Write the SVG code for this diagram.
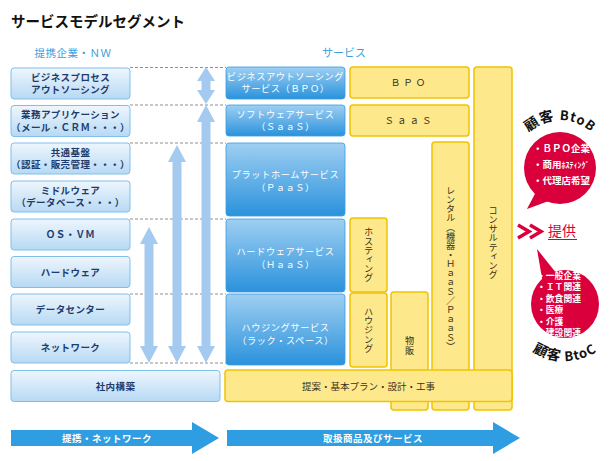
<svg xmlns="http://www.w3.org/2000/svg" width="614" height="461" viewBox="0 0 614 461">
<defs>
<linearGradient id="gl" x1="0" y1="0" x2="0" y2="1"><stop offset="0" stop-color="#eef6fd"/><stop offset="1" stop-color="#b7d9f4"/></linearGradient>
<linearGradient id="gs" x1="0" y1="0" x2="0" y2="1"><stop offset="0" stop-color="#9fcff2"/><stop offset="1" stop-color="#2a92dc"/></linearGradient>
<path id="arcB" d="M 514,166 A 46 46 0 0 1 606,166"/>
<path id="arcC" d="M 507,303 A 58 58 0 0 0 623,303"/>
</defs>
<style>
text{font-family:"Noto Sans CJK JP","Noto Sans",sans-serif}
.lb{fill:url(#gl);stroke:#80bfea;stroke-width:1}
.lt{font-size:9.5px;font-weight:bold;fill:#1d3b6c;text-anchor:middle;letter-spacing:0.4px}
.sb{fill:url(#gs);stroke:#3a9ce0;stroke-width:0.8}
.st{font-size:9.2px;fill:#fff;text-anchor:middle;letter-spacing:0.6px}
.yb{fill:#fde88c;stroke:#f1c300;stroke-width:1.5}
.yt{font-size:9.5px;fill:#3a321c;text-anchor:middle}
.vt{font-size:9.2px;fill:#3a321c;text-anchor:middle;writing-mode:vertical-rl}
.dash{stroke:#8f8f8f;stroke-width:1;stroke-dasharray:3 2;fill:none}
.va{fill:#a4cbef}
.ba{fill:#2f9de1}
.bt{font-size:9.5px;font-weight:bold;fill:#fff;text-anchor:middle;letter-spacing:0.5px}
.red{fill:#d9003b}
.wt{font-size:9.5px;font-weight:bold;fill:#fff}
.wc{font-size:8.8px;font-weight:bold;fill:#fff}
.arc{font-size:14px;font-weight:bold;fill:#111;letter-spacing:1px}
</style>
<rect width="614" height="461" fill="#fff"/>
<text x="11" y="27" font-size="14.5" font-weight="bold" fill="#111">サービスモデルセグメント</text>
<text x="73" y="57" font-size="10.5" fill="#3a9ede" text-anchor="middle" letter-spacing="0.5">提携企業・ＮＷ</text>
<text x="344" y="57" font-size="11" fill="#3a9ede" text-anchor="middle">サービス</text>

<g id="connectors">
<line class="dash" x1="130" y1="67.5" x2="226" y2="67.5"/>
<line class="dash" x1="130" y1="105" x2="226" y2="105"/>
<line class="dash" x1="130" y1="143" x2="226" y2="143"/>
<line class="dash" x1="130" y1="219" x2="226" y2="219"/>
<line class="dash" x1="130" y1="294" x2="226" y2="294"/>
<line class="dash" x1="130" y1="363" x2="226" y2="363"/>
<polygon class="va" points="206,67 215,81 210.5,81 210.5,90 215,90 206,104 197,90 201.5,90 201.5,81 197,81"/>
<polygon class="va" points="206,105 215,122 210.5,122 210.5,346 215,346 206,363 197,346 201.5,346 201.5,122 197,122"/>
<polygon class="va" points="177,145 186,162 181.5,162 181.5,346 186,346 177,363 168,346 172.5,346 172.5,162 168,162"/>
<polygon class="va" points="149,227 158,244 153.5,244 153.5,346 158,346 149,363 140,346 144.5,346 144.5,244 140,244"/>
</g>

<g id="left-nodes">
<g id="n-bp"><rect class="lb" x="11" y="68" width="119" height="31" rx="3"/><text class="lt" x="70.5" y="80.5">ビジネスプロセス</text><text class="lt" x="70.5" y="93">アウトソーシング</text></g>
<g id="n-app"><rect class="lb" x="11" y="105.5" width="119" height="31" rx="3"/><text class="lt" x="70.5" y="118">業務アプリケーション</text><text class="lt" x="70.5" y="130.5">（メール・ＣＲＭ・・・）</text></g>
<g id="n-base"><rect class="lb" x="11" y="143" width="119" height="31" rx="3"/><text class="lt" x="70.5" y="155.5">共通基盤</text><text class="lt" x="70.5" y="168">（認証・販売管理・・・）</text></g>
<g id="n-mw"><rect class="lb" x="11" y="181" width="119" height="31" rx="3"/><text class="lt" x="70.5" y="193.5">ミドルウェア</text><text class="lt" x="70.5" y="206">（データベース・・・）</text></g>
<g id="n-os"><rect class="lb" x="11" y="219" width="119" height="31" rx="3"/><text class="lt" x="70.5" y="238" letter-spacing="1.5">ＯＳ・ＶＭ</text></g>
<g id="n-hw"><rect class="lb" x="11" y="256.5" width="119" height="31" rx="3"/><text class="lt" x="70.5" y="275.5">ハードウェア</text></g>
<g id="n-dc"><rect class="lb" x="11" y="294" width="119" height="31" rx="3"/><text class="lt" x="70.5" y="313">データセンター</text></g>
<g id="n-nw"><rect class="lb" x="11" y="332" width="119" height="31" rx="3"/><text class="lt" x="70.5" y="351">ネットワーク</text></g>
<g id="n-inhouse"><rect class="lb" x="11" y="370.5" width="209" height="31" rx="3"/><text class="lt" x="115.5" y="389.5">社内構築</text></g>
</g>

<g id="service-nodes">
<g id="s-bpo"><rect class="sb" x="226" y="67" width="119" height="32" rx="3"/><text class="st" x="285.5" y="79.5" font-size="8.8" letter-spacing="0.2">ビジネスアウトソーシング</text><text class="st" x="285.5" y="92">サービス（ＢＰＯ）</text></g>
<g id="s-saas"><rect class="sb" x="226" y="105" width="119" height="31" rx="3"/><text class="st" x="285.5" y="117.5">ソフトウェアサービス</text><text class="st" x="285.5" y="130">（ＳａａＳ）</text></g>
<g id="s-paas"><rect class="sb" x="226" y="143" width="119" height="73" rx="3"/><text class="st" x="285.5" y="178">プラットホームサービス</text><text class="st" x="285.5" y="190.5">（ＰａａＳ）</text></g>
<g id="s-haas"><rect class="sb" x="226" y="219" width="119" height="73" rx="3"/><text class="st" x="285.5" y="255">ハードウェアサービス</text><text class="st" x="285.5" y="267.5">（ＨａａＳ）</text></g>
<g id="s-hous"><rect class="sb" x="226" y="294" width="119" height="71" rx="3"/><text class="st" x="285.5" y="331">ハウジングサービス</text><text class="st" x="285.5" y="343.5">（ラック・スペース）</text></g>
</g>

<g id="yellow-nodes">
<g id="y-rental"><rect class="yb" x="432" y="142" width="37" height="268" rx="3"/><text class="vt" x="450.5" y="268.5" font-size="8.8">レンタル（機器・ＨａａＳ／ＰａａＳ）</text></g>
<g id="y-consul"><rect class="yb" x="474" y="67" width="38" height="343" rx="3"/><text class="vt" x="493" y="242.5">コンサルティング</text></g>
<g id="y-sales"><rect class="yb" x="391" y="292" width="37" height="118" rx="3"/><text class="vt" x="409.5" y="345.5">物販</text></g>
<g id="y-bpo"><rect class="yb" x="350" y="67" width="119" height="31" rx="3"/><text class="yt" x="409.5" y="86" letter-spacing="3">ＢＰＯ</text></g>
<g id="y-saas"><rect class="yb" x="350" y="105" width="119" height="31" rx="3"/><text class="yt" x="409.5" y="124" letter-spacing="3">ＳａａＳ</text></g>
<g id="y-host"><rect class="yb" x="350" y="218" width="37" height="74" rx="3"/><text class="vt" x="368.5" y="255">ホスティング</text></g>
<g id="y-housing"><rect class="yb" x="350" y="293" width="37" height="74" rx="3"/><text class="vt" x="368.5" y="330">ハウジング</text></g>
<g id="y-proposal"><rect class="yb" x="225" y="370" width="287" height="31.5" rx="3"/><text class="yt" x="368.5" y="389.5">提案・基本プラン・設計・工事</text></g>
</g>

<g id="bottom-arrows">
<polygon class="ba" points="11,430 192,430 192,422 219,438 192,454 192,446 11,446"/>
<text class="bt" x="107" y="441.5">提携・ネットワーク</text>
<polygon class="ba" points="227,430 493,430 493,422 520,438 493,454 493,446 227,446"/>
<text class="bt" x="373" y="441.5">取扱商品及びサービス</text>
</g>

<g id="btob">
<polygon class="red" points="538,188 554,199 527,209"/>
<circle class="red" cx="560" cy="168" r="36"/>
<text class="wt" x="533" y="152">・ＢＰＯ企業</text>
<text class="wt" x="533" y="168">・商用<tspan font-size="8">ﾎｽﾃｨﾝｸﾞ</tspan></text>
<text class="wt" x="533" y="184">・代理店希望</text>
<text class="arc"><textPath href="#arcB" startOffset="50%" text-anchor="middle">顧客 <tspan font-size="13">BtoB</tspan></textPath></text>
</g>

<g id="teikyo">
<polyline points="518,225 529,231.5 518,238" fill="none" stroke="#d9003b" stroke-width="3.5"/>
<polyline points="530,225 541,231.5 530,238" fill="none" stroke="#d9003b" stroke-width="3.5"/>
<text x="548" y="236" font-size="14" fill="#d9003b">提供</text>
<line x1="548" y1="239.5" x2="577" y2="239.5" stroke="#d9003b" stroke-width="1"/>
</g>

<g id="btoc">
<polygon class="red" points="537,249 543,284 557,274"/>
<circle class="red" cx="565" cy="304" r="34"/>
<text class="wc" x="537" y="278.5">・一般企業</text>
<text class="wc" x="537" y="290">・ＩＴ関連</text>
<text class="wc" x="537" y="301.5">・飲食関連</text>
<text class="wc" x="537" y="313">・医療</text>
<text class="wc" x="537" y="324.5">・介護</text>
<text class="wc" x="537" y="336">・建設関連</text>
<text class="arc"><textPath href="#arcC" startOffset="50%" text-anchor="middle">顧客 <tspan font-size="13">BtoC</tspan></textPath></text>
</g>
</svg>
